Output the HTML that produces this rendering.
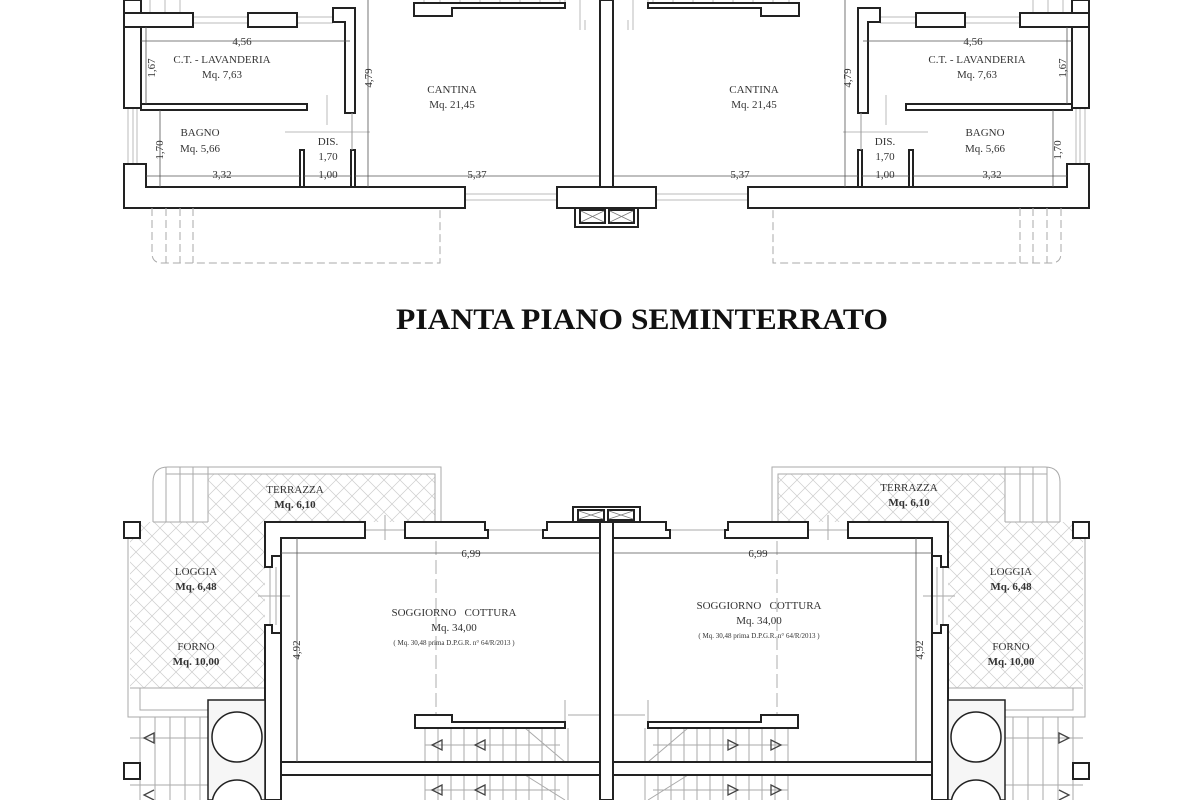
<!DOCTYPE html>
<html><head><meta charset="utf-8"><style>
html,body{margin:0;padding:0;background:#fff;}
svg{display:block;}
text{font-family:"Liberation Serif",serif;fill:#333;text-anchor:middle;}
.t{font-size:11px;}
.b{font-size:11px;font-weight:bold;}
.s{font-size:7px;}
.title{font-size:30px;font-weight:bold;fill:#111;}
</style></head><body>
<svg width="1200" height="800" viewBox="0 0 1200 800" xmlns="http://www.w3.org/2000/svg">
<defs>
<pattern id="hx" width="16" height="16" patternUnits="userSpaceOnUse">
<path d="M0 0L16 16M16 0L0 16" stroke="#ccc" stroke-width="0.7" fill="none"/>
</pattern>
<g id="L" fill="none">
<g stroke="#bbb" stroke-width="1">
<path d="M150 0V13M165 0V13M180 0V13M424 0V3M440 0V3M460 0V3M480 0V3M500 0V3M520 0V3M540 0V3M560 0V3"/>
<path d="M193 17H248M193 23H248M297 17H333M297 23H333"/>
<path d="M128 108V164M133 108V164M137 108V164"/>
<path d="M465 194H557M465 200H557"/>
<path d="M565 0V8M580 0V30M585 20V30"/>
<path d="M327 95V125M285 132H370"/>
</g>
<g stroke="#222" stroke-width="2" fill="#fff">
<rect x="124" y="0" width="17" height="108"/>
<rect x="124" y="13" width="69" height="14"/>
<rect x="248" y="13" width="49" height="14"/>
<path d="M333 8H355V113H345V22H333Z"/>
<path d="M141 104H307V110H141Z"/>
<rect x="300" y="150" width="4" height="37"/>
<rect x="351" y="150" width="4" height="37"/>
<path d="M124 164H146V187H465V208H124Z"/>
<path d="M557 187H600V208H557Z"/>
<path d="M414 3H565V8H452V16H414Z"/>
</g>
<path d="M352 113V150" stroke="#999" stroke-width="1"/>
<g stroke="#aaa" stroke-width="1" stroke-dasharray="8,4">
<path d="M152 208V253Q152 263 162 263H440V208"/>
<path d="M166 208V263M180 208V263M193 208V263"/>
</g>
<g stroke="#555" stroke-width="0.8">
<path d="M141 41H350M146 27V104M160 110V187M146 176H300M304 176H351M355 176H600M368 0V187"/>
</g>
<path d="M208 474H435V522H265V688H130V538H140V522H208Z" fill="url(#hx)"/>
<g stroke="#aaa" stroke-width="1">
<path d="M153 522V482Q153 467 168 467H441V522"/>
<path d="M166 474H435V522M166 467V522M180 467V522M193 467V522M208 467V522M153 522H208"/>
<path d="M128 538V717H208M140 688V710H208M130 688H265"/>
<path d="M140 717V800M155 717V800M170 717V800M185 717V800M200 717V800"/>
<path d="M130 738H208M130 785H208"/>
<path d="M365 530H405M385 515V540"/>
<path d="M485 530H543"/>
<path d="M270 567V625M276 567V625M258 596H290"/>
<path d="M237 700V725"/>
<path d="M425 728V800M438 728V800M451 728V800M464 728V800M477 728V800M490 728V800M503 728V800M516 728V800M529 728V800M542 728V800M555 728V800M568 728V800"/>
<path d="M425 745H560M425 790H560M525 728L565 762M525 775L565 800M565 700V728M568 715H600"/>
</g>
<path d="M436 522V715" stroke="#bbb" stroke-width="1.2" stroke-dasharray="14,5"/>
<g stroke="#222" stroke-width="2" fill="#fff">
<rect x="124" y="522" width="16" height="16"/>
<rect x="124" y="763" width="16" height="16"/>
<path d="M265 522H365V538H281V556H272V567H265Z"/>
<path d="M405 522H485V530H488V538H405Z"/>
<path d="M543 530H547V522H600V538H543Z"/>
<path d="M265 625H272V633H281V762H600V775H281V800H265V700H265V625Z"/>
<path d="M415 715H452V722H565V728H415Z"/>
</g>
<rect x="208" y="700" width="57" height="100" fill="#f6f6f6" stroke="#222" stroke-width="1.5"/>
<circle cx="237" cy="737" r="25" fill="#fff" stroke="#222" stroke-width="1.5"/>
<circle cx="237" cy="805" r="25" fill="#fff" stroke="#222" stroke-width="1.5"/>
<path d="M281 538V775M600 538V762" stroke="#222" stroke-width="2"/>
<g stroke="#444" stroke-width="1.3" fill="none">
<path d="M154 733L144 738L154 743Z"/>
<path d="M442 740L432 745L442 750Z"/>
<path d="M485 740L475 745L485 750Z"/>
<path d="M442 785L432 790L442 795Z"/>
<path d="M485 785L475 790L485 795Z"/>
<path d="M154 790L144 795L154 800"/>
</g>
<g stroke="#555" stroke-width="0.8">
<path d="M281 553H600M297 538V762"/>
</g>
</g>
</defs>
<use href="#L"/>
<use href="#L" transform="translate(1213,0) scale(-1,1)"/>
<g stroke="#222" stroke-width="2" fill="#fff">
<path d="M557 187H656V208H557Z"/>
<path d="M575 208H638V227H575Z"/>
<rect x="580" y="210" width="25" height="13"/>
<rect x="609" y="210" width="25" height="13"/>
<rect x="600" y="0" width="13" height="187" fill="#fff"/>
<path d="M573 507H640V522H573Z"/>
<rect x="578" y="510" width="26" height="10"/>
<rect x="608" y="510" width="26" height="10"/>
<rect x="600" y="522" width="13" height="278" fill="#fff"/>
</g>
<path d="M581 211L604 222M604 211L581 222M610 211L633 222M633 211L610 222M579 511L603 519M603 511L579 519M609 511L633 519M633 511L609 519" stroke="#777" stroke-width="0.7"/>
<text class="t" x="242" y="45">4,56</text>
<text class="t" x="222" y="63">C.T. - LAVANDERIA</text>
<text class="t" x="222" y="78">Mq. 7,63</text>
<text class="t" transform="translate(155,68) rotate(-90)">1,67</text>
<text class="t" x="200" y="136">BAGNO</text>
<text class="t" x="200" y="152">Mq. 5,66</text>
<text class="t" transform="translate(163,150) rotate(-90)">1,70</text>
<text class="t" x="222" y="178">3,32</text>
<text class="t" x="328" y="145">DIS.</text>
<text class="t" x="328" y="160">1,70</text>
<text class="t" x="328" y="178">1,00</text>
<text class="t" transform="translate(372,78) rotate(-90)">4,79</text>
<text class="t" x="452" y="93">CANTINA</text>
<text class="t" x="452" y="108">Mq. 21,45</text>
<text class="t" x="477" y="178">5,37</text>
<text class="t" x="973" y="45">4,56</text>
<text class="t" x="977" y="63">C.T. - LAVANDERIA</text>
<text class="t" x="977" y="78">Mq. 7,63</text>
<text class="t" transform="translate(1066,68) rotate(-90)">1,67</text>
<text class="t" x="985" y="136">BAGNO</text>
<text class="t" x="985" y="152">Mq. 5,66</text>
<text class="t" transform="translate(1061,150) rotate(-90)">1,70</text>
<text class="t" x="992" y="178">3,32</text>
<text class="t" x="885" y="145">DIS.</text>
<text class="t" x="885" y="160">1,70</text>
<text class="t" x="885" y="178">1,00</text>
<text class="t" transform="translate(851,78) rotate(-90)">4,79</text>
<text class="t" x="754" y="93">CANTINA</text>
<text class="t" x="754" y="108">Mq. 21,45</text>
<text class="t" x="740" y="178">5,37</text>
<text class="title" x="642" y="329" textLength="492" lengthAdjust="spacingAndGlyphs">PIANTA PIANO SEMINTERRATO</text>
<text class="t" x="295" y="493">TERRAZZA</text>
<text class="b" x="295" y="508">Mq. 6,10</text>
<text class="t" x="196" y="575">LOGGIA</text>
<text class="b" x="196" y="590">Mq. 6,48</text>
<text class="t" x="196" y="650">FORNO</text>
<text class="b" x="196" y="665">Mq. 10,00</text>
<text class="t" x="471" y="557">6,99</text>
<text class="t" x="454" y="616">SOGGIORNO &#160;&#160;COTTURA</text>
<text class="t" x="454" y="631">Mq. 34,00</text>
<text class="s" x="454" y="645">( Mq. 30,48 prima D.P.G.R. n° 64/R/2013 )</text>
<text class="t" transform="translate(300,650) rotate(-90)">4,92</text>
<text class="t" x="909" y="491">TERRAZZA</text>
<text class="b" x="909" y="506">Mq. 6,10</text>
<text class="t" x="1011" y="575">LOGGIA</text>
<text class="b" x="1011" y="590">Mq. 6,48</text>
<text class="t" x="1011" y="650">FORNO</text>
<text class="b" x="1011" y="665">Mq. 10,00</text>
<text class="t" x="758" y="557">6,99</text>
<text class="t" x="759" y="609">SOGGIORNO &#160;&#160;COTTURA</text>
<text class="t" x="759" y="624">Mq. 34,00</text>
<text class="s" x="759" y="638">( Mq. 30,48 prima D.P.G.R. n° 64/R/2013 )</text>
<text class="t" transform="translate(923,650) rotate(-90)">4,92</text>
</svg>
</body></html>
